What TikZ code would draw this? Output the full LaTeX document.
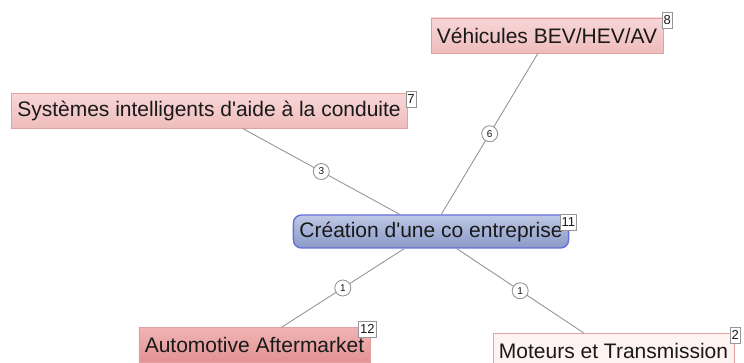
\documentclass[tikz,border=0pt]{standalone}
\usepackage{fontspec}
\newfontfamily\mapfont{Liberation Sans}
\definecolor{pinkline}{RGB}{226,160,160}
\definecolor{pinktop}{RGB}{248,214,214}
\definecolor{pinkbot}{RGB}{238,188,188}
\definecolor{rosetop}{RGB}{240,180,180}
\definecolor{rosebot}{RGB}{226,146,146}
\definecolor{palepink}{RGB}{254,243,241}
\definecolor{coreline}{RGB}{104,110,220}
\definecolor{coretop}{RGB}{190,200,228}
\definecolor{corebot}{RGB}{138,154,200}
\definecolor{linkgray}{RGB}{150,150,150}
\definecolor{textdark}{RGB}{25,25,25}
\tikzset{
  topic/.style={draw=pinkline, top color=pinktop, bottom color=pinkbot,
    minimum height=35pt, inner xsep=6pt, inner ysep=0pt, text=textdark,
    font=\mapfont\fontsize{21}{25}\selectfont},
  core/.style={topic, draw=coreline, line width=1.4pt, rounded corners=8pt,
    top color=coretop, bottom color=corebot, minimum height=33pt},
  badge/.style={draw=linkgray, fill=white, inner sep=1.5pt, minimum height=16pt,
    text=textdark, font=\mapfont\fontsize{13}{15}\selectfont},
  link/.style={draw=linkgray, line width=0.9pt},
  weight/.style={circle, draw=linkgray, fill=white, inner sep=0pt, minimum size=16pt,
    text=textdark, font=\mapfont\fontsize{10}{11}\selectfont}
}
\begin{document}
\begin{tikzpicture}[x=1pt,y=-1pt]
  \useasboundingbox (0,0) rectangle (744,363);
  % узлы
  \node[core] (ctr) at (431,231.5) {Création d'une co entreprise};
  \node[topic] (veh) at (547,35.5) {Véhicules BEV/HEV/AV};
  \node[topic] (sys) at (209,111) {Systèmes intelligents d'aide à la conduite};
  \node[topic, top color=rosetop, bottom color=rosebot] (aft) at (254.5,345) {Automotive Aftermarket};
  \node[topic, top color=palepink, bottom color=palepink] (mot) at (613.5,350.5) {Moteurs et Transmission};
  % счётчики
  \node[badge] (n11) at ([xshift=-1pt,yshift=-8pt]ctr.north east) {11};
  \node[badge] (n8) at ([xshift=4pt,yshift=-2pt]veh.north east) {8};
  \node[badge] (n7) at ([xshift=4pt,yshift=-6pt]sys.north east) {7};
  \node[badge] (n12) at ([xshift=-3pt,yshift=-2pt]aft.north east) {12};
  \node[badge] (n2) at ([xshift=1pt,yshift=-2pt]mot.north east) {2};
  % связи
  \draw[link] (ctr) -- node[weight] {3} ([xshift=34pt]sys.south);
  \draw[link] (ctr) -- node[weight] {6} ([xshift=-9pt]veh.south);
  \draw[link] (ctr) -- node[weight] {1} ([xshift=27pt]aft.north);
  \draw[link] (ctr) -- node[weight] {1} ([xshift=-30pt]mot.north);
\end{tikzpicture}
\end{document}
